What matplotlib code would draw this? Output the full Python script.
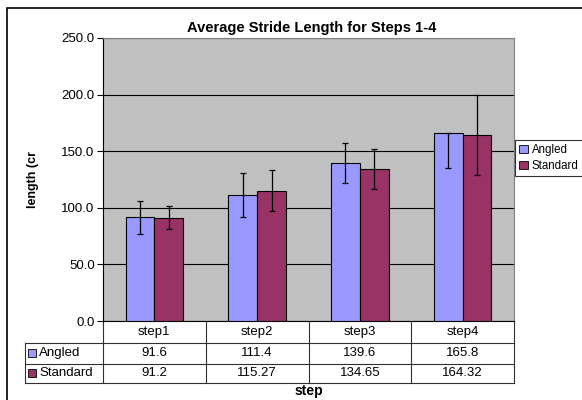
import matplotlib
matplotlib.use('Agg')
import matplotlib.pyplot as plt
from matplotlib.patches import Rectangle
from matplotlib.lines import Line2D

plt.rcParams['font.family'] = ['Liberation Sans', 'DejaVu Sans']

steps = ['step1', 'step2', 'step3', 'step4']
angled = [91.6, 111.4, 139.6, 165.8]
standard = [91.2, 115.27, 134.65, 164.32]
angled_err_lo = [14.6, 19.6, 17.6, 31.0]
angled_err_hi = [14.6, 19.6, 17.6, 0.0]
standard_err = [10.0, 18.4, 17.7, 35.0]
angled_txt = ['91.6', '111.4', '139.6', '165.8']
standard_txt = ['91.2', '115.27', '134.65', '164.32']

c_ang = '#9999FF'
c_std = '#993366'
fs = 9.5

fig = plt.figure(figsize=(5.82, 4.0), dpi=100, facecolor='white')
ax = fig.add_axes([103/582, 1-321/400, 411/582, 283/400])
ax.set_facecolor('#C0C0C0')

x = list(range(len(steps)))
w = 0.28
ax.bar([i - w/2 for i in x], angled, w, color=c_ang, edgecolor='black', linewidth=0.8, zorder=3)
ax.bar([i + w/2 for i in x], standard, w, color=c_std, edgecolor='black', linewidth=0.8, zorder=3)
ax.errorbar([i - w/2 for i in x], angled, yerr=[angled_err_lo, angled_err_hi], fmt='none',
            ecolor='black', elinewidth=0.9, capsize=2.2, capthick=0.9, zorder=4)
ax.errorbar([i + w/2 for i in x], standard, yerr=standard_err, fmt='none',
            ecolor='black', elinewidth=0.9, capsize=2.2, capthick=0.9, zorder=4)

ax.set_xlim(-0.5, 3.5)
ax.set_ylim(0, 250)
ax.set_yticks([0, 50, 100, 150, 200, 250])
ax.set_yticklabels(['%.1f' % v for v in [0, 50, 100, 150, 200, 250]], fontsize=fs)
ax.yaxis.grid(True, color='black', linewidth=0.8, zorder=1)
ax.set_axisbelow(True)
ax.tick_params(axis='y', length=4, width=0.8, pad=2)
ax.set_xticks([])
for s in ['top', 'right']:
    ax.spines[s].set_color('#808080')
for s in ['left', 'bottom']:
    ax.spines[s].set_color('black')
    ax.spines[s].set_linewidth(0.8)

ax.set_ylabel('length (cr', fontsize=9, fontweight='bold')
ax.yaxis.set_label_coords((39 - 103) / 411, 0.5)

fig.text(0.535, 1-28/400, 'Average Stride Length for Steps 1-4', ha='center', va='center',
         fontsize=10.5, fontweight='bold')

# data table below the axis
T = ax.transAxes
r1, r2, r3 = -22/283, -42.7/283, -61.7/283
left = (24.5 - 103) / 411
lc = '#303030'
lw = 0.8
def hline(x0, x1, y):
    ax.add_line(Line2D([x0, x1], [y, y], transform=T, color=lc, lw=lw, clip_on=False))
def vline(xx, y0, y1):
    ax.add_line(Line2D([xx, xx], [y0, y1], transform=T, color=lc, lw=lw, clip_on=False))
hline(0, 1, r1)
hline(left, 1, r2)
hline(left, 1, r3)
hline(left, 0, r1)
vline(left, r1, r3)
for k in range(5):
    vline(k/4, 0, r3)

for i, s in enumerate(steps):
    cx = (i + 0.5) / 4
    ax.text(cx, (0 + r1)/2, s, transform=T, ha='center', va='center', fontsize=fs)
    ax.text(cx, (r1 + r2)/2, angled_txt[i], transform=T, ha='center', va='center', fontsize=fs)
    ax.text(cx, (r2 + r3)/2, standard_txt[i], transform=T, ha='center', va='center', fontsize=fs)

for lab, col, y0, y1 in [('Angled', c_ang, r1, r2), ('Standard', c_std, r2, r3)]:
    ym = (y0 + y1) / 2
    ax.add_patch(Rectangle(((28-103)/411, ym - 4/283), 8/411, 8/283, transform=T,
                           facecolor=col, edgecolor='black', lw=0.6, clip_on=False))
    ax.text((39-103)/411, ym, lab, transform=T, ha='left', va='center', fontsize=fs)

ax.text(0.5, -(391-321)/283, 'step', transform=T, ha='center', va='center',
        fontsize=10, fontweight='bold')

# legend
handles = [Rectangle((0, 0), 1, 1, facecolor=c_ang, edgecolor='black', lw=0.6),
           Rectangle((0, 0), 1, 1, facecolor=c_std, edgecolor='black', lw=0.6)]
leg = fig.legend(handles, ['Angled', 'Standard'], loc='upper left',
                 bbox_to_anchor=(515/582, 1-140/400), fontsize=8.3, frameon=True,
                 fancybox=False, edgecolor='black', handlelength=0.8, handleheight=0.8,
                 handletextpad=0.3, borderpad=0.35, labelspacing=0.35, borderaxespad=0)
leg.get_frame().set_linewidth(0.8)

# outer chart border
fig.add_artist(Rectangle((7/582, -0.05), 1.2, 1-8/400+0.05, transform=fig.transFigure,
                         facecolor='none', edgecolor='black', lw=1.2))

fig.savefig('out.png', dpi=100, facecolor='white')
